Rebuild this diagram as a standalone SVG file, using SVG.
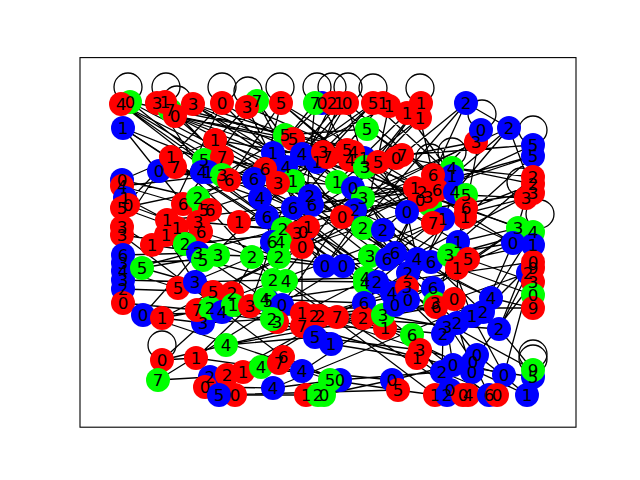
<svg xmlns="http://www.w3.org/2000/svg" width="640" height="480" viewBox="0 0 640 480">
<style>
.e{fill:none;stroke:#000;stroke-width:1.3}
.r{fill:#f00}.g{fill:#0f0}.b{fill:#00f}
.lb text{font-family:"DejaVu Sans","Liberation Sans",sans-serif;font-size:16.7px;text-anchor:middle;fill:#000}
</style>
<rect width="640" height="480" fill="#fff"/>
<g id="edges" class="e">
<path d="M121 104L229 180M121 104L293 208M121 104L267 217M130 102L222 175M130 102L310 196M123 128L204 160M123 128L254 179M123 128L302 247M123 128L198 222M157 103L202 172M157 103L285 135M165 102L260 198M175 116L293 139M175 116L337 182M175 116L355 210M175 116L222 157M193 104L273 153M193 104L302 154M193 104L378 162M222 103L171 157M222 103L286 167M222 103L167 220M247 107L215 140M247 107L364 158M247 107L325 266M257 101L312 205M257 101L342 217M257 101L183 204M281 103L350 160M281 103L229 180M281 103L265 169M281 103L407 212M315 103L254 179M315 103L302 247M322 103L273 153M322 103L383 230M332 103L293 181M332 103L402 155M339 103L260 198M339 103L317 162M347 103L365 167M347 103L278 183M347 103L433 175M373 103L325 155M373 103L302 154M373 103L452 176M383 103L293 208M389 106L265 169M389 106L363 228M407 113L337 182M407 113L466 195M421 103L378 162M420 118L353 188M420 118L443 219M420 118L312 205M466 103L402 155M466 103L433 175M466 103L509 128M481 130L422 192M481 130L466 208M476 142L397 157M476 142L363 198M509 128L455 192M509 128L428 197M509 128L533 193M533 145L437 190M533 145L402 155M533 156L465 217M533 156L415 188M533 177L452 168M533 177L458 242M533 184L433 223M533 193L407 212M526 198L466 195M526 198L513 243M526 198L443 219M518 228L458 242M518 228L466 208M518 228L433 288M533 232L491 298M533 232L449 255M513 243L417 259M513 243L457 268M513 243L483 312M533 245L468 259M533 245L499 329"/>
<path d="M452 168L363 198M452 168L383 230M433 175L355 210M437 190L365 167M415 188L312 205M422 192L395 253M428 197L342 217M420 200L387 259M455 192L408 300M466 195L395 305M466 208L377 282M465 217L435 303M407 212L302 247M407 212L417 259M433 223L365 278M443 219L370 256M458 242L392 293M458 242L457 323M402 155L325 266M397 157L283 229M215 140L122 180M215 140L302 154M215 140L310 196M204 160L286 167M204 160L254 179M222 157L293 181M222 157L278 183M171 157L122 208M171 157L239 222M175 167L260 198M159 171L229 180M159 171L122 227M202 172L267 217M208 172L310 196M222 175L285 135M229 180L293 208M122 180L198 198M122 186L183 204M125 198L167 220M128 205L201 232M122 208L177 228M183 204L254 179M198 198L273 153M204 210L293 181M210 210L273 280M239 222L312 205M167 220L283 229M177 228L252 257M166 235L210 308M198 222L303 232M201 232L279 257M122 227L152 245M122 235L185 244M152 245L218 255M185 244L297 233"/>
<path d="M285 135L337 182M293 139L364 158M273 153L347 150M302 154L353 188M265 169L342 217M286 167L363 228M254 179L272 242M278 183L370 256M293 181L383 230M260 198L325 266M267 217L343 266M293 208L365 278M310 196L395 253M312 205L387 259M317 162L363 198M325 155L402 155M347 150L415 188M353 152L428 197M350 160L420 200M364 158L433 223M365 167L443 219M378 162L407 212M367 129L285 135M367 129L433 175M337 182L408 273M353 188L417 259M363 198L431 262M342 217L282 305M355 210L449 255M363 228L408 273M383 230L457 268M283 229L252 257M297 233L365 283M303 232L377 282M308 227L392 293M272 242L250 306M280 242L272 319M302 247L302 313"/>
<path d="M123 255L198 253M123 263L203 260M123 271L178 288M123 280L195 282M123 289L213 292M123 303L197 310M123 303L143 315M142 268L232 293M142 268L218 255M198 253L265 299M203 260L286 281M218 255L279 257M178 288L252 257M195 282L273 280M213 292L282 305M232 293L302 313M143 315L222 312M162 318L233 305M197 310L277 322M210 308L302 326M203 323L272 319M222 312L314 316M233 305L320 316M250 306L337 317M226 345L162 360M226 345L302 326M226 345L315 337M196 358L162 360M196 358L261 367M158 380L210 377M210 377L279 363M205 387L273 388M227 375L283 357M243 372L302 371M219 395L306 395M235 395L322 395M196 358L250 306M162 318L203 323M143 315L198 253M162 360L203 323"/>
<path d="M252 257L325 266M279 257L343 266M325 266L370 256M343 266L387 259M273 280L365 278M286 281L377 282M265 299L364 303M282 305L363 318M272 319L331 344M277 322L315 337M302 313L383 315M302 326L385 328M314 316L392 293M320 316L395 305M337 317L412 335M364 303L433 288M363 318L435 303M383 315L447 327M385 328L443 334M315 337L420 350M331 344L417 358M261 367L302 371M279 363L330 380M283 357L338 380M302 371L392 380M273 388L338 380M330 380L398 390M338 380L442 372M392 380L453 365M398 390L435 395M322 395L392 380M306 395L302 371"/>
<path d="M417 259L491 298M431 262L483 312M449 255L472 316M468 259L533 282M457 268L533 295M408 273L457 323M407 287L447 327M408 300L443 334M433 288L499 329M435 303L477 355M436 307L473 362M454 299L528 273M491 298L533 308M483 312L533 262M472 316L504 375M457 323L472 372M447 327L453 365M443 334L442 372M499 329L533 370M412 335L450 390M420 350L463 395M417 358L468 395M477 355L527 395M473 362L489 395M442 372L497 395M453 365L533 377M504 375L533 268M528 273L499 329M533 282L477 355"/>
<path d="M121 104L431 262M123 128L395 305M130 102L533 184M175 116L466 208M193 104L417 259M222 103L458 242M281 103L513 243M347 103L222 312M373 103L178 288M421 103L265 299M466 103L325 266M509 128L283 229M533 156L272 242M533 193L302 313M518 228L302 371M533 262L233 305M533 308L210 308M504 375L282 305M527 395L363 318M463 395L286 281M435 395L252 257M398 390L219 395M338 380L143 315M302 371L122 235M226 345L436 307M158 380L343 266M162 318L415 188M123 271L355 210M122 208L350 160M159 171L466 195M215 140L433 223M204 160L491 298M260 198L457 323M293 181L472 316M254 179L408 300M302 154L533 232M325 155L513 243M364 158L175 116M402 155L122 186M437 190L167 220M466 195L239 222M452 176L213 292M443 219L197 310M458 242L243 372M431 262L205 387M491 298L273 388M472 372L302 326M499 329L320 316M533 370L392 293M489 395L383 315"/>
<g id="loops">
<circle cx="128" cy="87" r="14"/><circle cx="166" cy="87" r="14"/><circle cx="177" cy="100" r="14"/><circle cx="222" cy="87" r="14"/><circle cx="248" cy="91" r="14"/><circle cx="280" cy="87" r="14"/><circle cx="317" cy="87" r="14"/><circle cx="332" cy="87" r="14"/><circle cx="348" cy="87" r="14"/><circle cx="373" cy="88" r="14"/><circle cx="420" cy="88" r="14"/><circle cx="482" cy="114" r="14"/><circle cx="533" cy="130" r="14"/><circle cx="452" cy="152" r="14"/><circle cx="430" cy="158" r="14"/><circle cx="162" cy="345" r="14"/><circle cx="533" cy="354" r="14"/><circle cx="533" cy="359" r="14"/><circle cx="540" cy="214" r="14"/><circle cx="521" cy="182" r="14"/>
</g>
</g>
<g id="nodes">
<g id="n1"><circle class="g" cx="130" cy="102" r="12"/></g>
<g id="n2"><circle class="r" cx="121" cy="104" r="12"/></g>
<g id="n3"><circle class="b" cx="123" cy="128" r="12"/></g>
<g id="n4"><circle class="r" cx="157" cy="103" r="12"/></g>
<g id="n5"><circle class="g" cx="170" cy="110" r="12"/></g>
<g id="n6"><circle class="r" cx="165" cy="102" r="12"/></g>
<g id="n7"><circle class="r" cx="175" cy="116" r="12"/></g>
<g id="n8"><circle class="r" cx="193" cy="104" r="12"/></g>
<g id="n9"><circle class="r" cx="222" cy="103" r="12"/></g>
<g id="n10"><circle class="g" cx="257" cy="101" r="12"/></g>
<g id="n11"><circle class="r" cx="247" cy="107" r="12"/></g>
<g id="n12"><circle class="r" cx="281" cy="103" r="12"/></g>
<g id="n14"><circle class="b" cx="322" cy="103" r="12"/></g>
<g id="n13"><circle class="g" cx="315" cy="103" r="12"/></g>
<g id="n15"><circle class="r" cx="332" cy="103" r="12"/></g>
<g id="n16"><circle class="r" cx="339" cy="103" r="12"/></g>
<g id="n17"><circle class="r" cx="347" cy="103" r="12"/></g>
<g id="n18"><circle class="r" cx="373" cy="103" r="12"/></g>
<g id="n19"><circle class="r" cx="383" cy="103" r="12"/></g>
<g id="n20"><circle class="r" cx="389" cy="106" r="12"/></g>
<g id="n21"><circle class="r" cx="421" cy="103" r="12"/></g>
<g id="n22"><circle class="r" cx="407" cy="113" r="12"/></g>
<g id="n23"><circle class="r" cx="420" cy="118" r="12"/></g>
<g id="n24"><circle class="b" cx="466" cy="103" r="12"/></g>
<g id="n25"><circle class="r" cx="476" cy="142" r="12"/></g>
<g id="n26"><circle class="b" cx="481" cy="130" r="12"/></g>
<g id="n27"><circle class="b" cx="509" cy="128" r="12"/></g>
<g id="n28"><circle class="b" cx="533" cy="145" r="12"/></g>
<g id="n29"><circle class="b" cx="533" cy="156" r="12"/></g>
<g id="n30"><circle class="r" cx="533" cy="177" r="12"/></g>
<g id="n31"><circle class="r" cx="533" cy="184" r="12"/></g>
<g id="n32"><circle class="r" cx="533" cy="193" r="12"/></g>
<g id="n33"><circle class="r" cx="526" cy="198" r="12"/></g>
<g id="n34"><circle class="g" cx="518" cy="228" r="12"/></g>
<g id="n35"><circle class="g" cx="533" cy="232" r="12"/></g>
<g id="n36"><circle class="b" cx="513" cy="243" r="12"/></g>
<g id="n37"><circle class="b" cx="533" cy="245" r="12"/></g>
<g id="n38"><circle class="r" cx="402" cy="155" r="12"/></g>
<g id="n39"><circle class="r" cx="396" cy="158" r="12"/></g>
<g id="n40"><circle class="g" cx="452" cy="168" r="12"/></g>
<g id="n41"><circle class="b" cx="452" cy="176" r="12"/></g>
<g id="n42"><circle class="r" cx="433" cy="175" r="12"/></g>
<g id="n45"><circle class="g" cx="430" cy="205" r="12"/></g>
<g id="n43"><circle class="r" cx="415" cy="188" r="12"/></g>
<g id="n44"><circle class="r" cx="422" cy="192" r="12"/></g>
<g id="n46"><circle class="r" cx="437" cy="190" r="12"/></g>
<g id="n47"><circle class="r" cx="420" cy="200" r="12"/></g>
<g id="n48"><circle class="r" cx="428" cy="197" r="12"/></g>
<g id="n49"><circle class="b" cx="455" cy="192" r="12"/></g>
<g id="n50"><circle class="g" cx="466" cy="195" r="12"/></g>
<g id="n51"><circle class="r" cx="466" cy="208" r="12"/></g>
<g id="n52"><circle class="r" cx="465" cy="217" r="12"/></g>
<g id="n53"><circle class="b" cx="407" cy="212" r="12"/></g>
<g id="n55"><circle class="b" cx="443" cy="219" r="12"/></g>
<g id="n54"><circle class="r" cx="433" cy="223" r="12"/></g>
<g id="n56"><circle class="b" cx="458" cy="242" r="12"/></g>
<g id="n57"><circle class="r" cx="215" cy="140" r="12"/></g>
<g id="n58"><circle class="g" cx="204" cy="160" r="12"/></g>
<g id="n59"><circle class="r" cx="222" cy="157" r="12"/></g>
<g id="n62"><circle class="b" cx="159" cy="171" r="12"/></g>
<g id="n60"><circle class="r" cx="171" cy="157" r="12"/></g>
<g id="n61"><circle class="r" cx="175" cy="167" r="12"/></g>
<g id="n63"><circle class="b" cx="202" cy="172" r="12"/></g>
<g id="n64"><circle class="b" cx="208" cy="172" r="12"/></g>
<g id="n65"><circle class="g" cx="222" cy="175" r="12"/></g>
<g id="n66"><circle class="r" cx="229" cy="180" r="12"/></g>
<g id="n67"><circle class="b" cx="122" cy="180" r="12"/></g>
<g id="n68"><circle class="r" cx="122" cy="186" r="12"/></g>
<g id="n69"><circle class="b" cx="125" cy="198" r="12"/></g>
<g id="n70"><circle class="r" cx="128" cy="205" r="12"/></g>
<g id="n71"><circle class="r" cx="122" cy="208" r="12"/></g>
<g id="n72"><circle class="r" cx="183" cy="204" r="12"/></g>
<g id="n73"><circle class="g" cx="198" cy="198" r="12"/></g>
<g id="n74"><circle class="g" cx="204" cy="210" r="12"/></g>
<g id="n75"><circle class="r" cx="210" cy="210" r="12"/></g>
<g id="n76"><circle class="r" cx="239" cy="222" r="12"/></g>
<g id="n77"><circle class="r" cx="167" cy="220" r="12"/></g>
<g id="n78"><circle class="r" cx="177" cy="228" r="12"/></g>
<g id="n79"><circle class="r" cx="166" cy="235" r="12"/></g>
<g id="n80"><circle class="r" cx="198" cy="222" r="12"/></g>
<g id="n81"><circle class="r" cx="201" cy="232" r="12"/></g>
<g id="n82"><circle class="r" cx="122" cy="227" r="12"/></g>
<g id="n83"><circle class="r" cx="122" cy="235" r="12"/></g>
<g id="n84"><circle class="r" cx="152" cy="245" r="12"/></g>
<g id="n85"><circle class="g" cx="185" cy="244" r="12"/></g>
<g id="n86"><circle class="g" cx="285" cy="135" r="12"/></g>
<g id="n87"><circle class="r" cx="293" cy="139" r="12"/></g>
<g id="n88"><circle class="b" cx="273" cy="153" r="12"/></g>
<g id="n89"><circle class="b" cx="302" cy="154" r="12"/></g>
<g id="n91"><circle class="b" cx="286" cy="167" r="12"/></g>
<g id="n90"><circle class="r" cx="265" cy="169" r="12"/></g>
<g id="n92"><circle class="b" cx="254" cy="179" r="12"/></g>
<g id="n94"><circle class="g" cx="293" cy="181" r="12"/></g>
<g id="n93"><circle class="r" cx="278" cy="183" r="12"/></g>
<g id="n95"><circle class="b" cx="260" cy="198" r="12"/></g>
<g id="n96"><circle class="b" cx="267" cy="217" r="12"/></g>
<g id="n97"><circle class="b" cx="293" cy="208" r="12"/></g>
<g id="n98"><circle class="b" cx="310" cy="196" r="12"/></g>
<g id="n99"><circle class="b" cx="312" cy="205" r="12"/></g>
<g id="n100"><circle class="b" cx="317" cy="162" r="12"/></g>
<g id="n101"><circle class="r" cx="323" cy="152" r="12"/></g>
<g id="n102"><circle class="r" cx="327" cy="157" r="12"/></g>
<g id="n106"><circle class="b" cx="364" cy="158" r="12"/></g>
<g id="n103"><circle class="r" cx="347" cy="150" r="12"/></g>
<g id="n104"><circle class="r" cx="353" cy="152" r="12"/></g>
<g id="n105"><circle class="r" cx="350" cy="160" r="12"/></g>
<g id="n107"><circle class="g" cx="365" cy="167" r="12"/></g>
<g id="n108"><circle class="r" cx="378" cy="162" r="12"/></g>
<g id="n109"><circle class="g" cx="367" cy="129" r="12"/></g>
<g id="n110"><circle class="g" cx="337" cy="182" r="12"/></g>
<g id="n111"><circle class="b" cx="353" cy="188" r="12"/></g>
<g id="n112"><circle class="g" cx="363" cy="198" r="12"/></g>
<g id="n114"><circle class="b" cx="355" cy="210" r="12"/></g>
<g id="n113"><circle class="r" cx="342" cy="217" r="12"/></g>
<g id="n115"><circle class="g" cx="363" cy="228" r="12"/></g>
<g id="n116"><circle class="b" cx="383" cy="230" r="12"/></g>
<g id="n117"><circle class="g" cx="283" cy="229" r="12"/></g>
<g id="n119"><circle class="b" cx="303" cy="232" r="12"/></g>
<g id="n118"><circle class="r" cx="297" cy="233" r="12"/></g>
<g id="n120"><circle class="r" cx="308" cy="227" r="12"/></g>
<g id="n121"><circle class="b" cx="272" cy="242" r="12"/></g>
<g id="n122"><circle class="g" cx="280" cy="242" r="12"/></g>
<g id="n123"><circle class="r" cx="302" cy="247" r="12"/></g>
<g id="n124"><circle class="b" cx="123" cy="255" r="12"/></g>
<g id="n125"><circle class="b" cx="123" cy="263" r="12"/></g>
<g id="n126"><circle class="b" cx="123" cy="271" r="12"/></g>
<g id="n127"><circle class="b" cx="123" cy="280" r="12"/></g>
<g id="n128"><circle class="b" cx="123" cy="289" r="12"/></g>
<g id="n129"><circle class="r" cx="123" cy="303" r="12"/></g>
<g id="n130"><circle class="g" cx="142" cy="268" r="12"/></g>
<g id="n131"><circle class="b" cx="198" cy="253" r="12"/></g>
<g id="n132"><circle class="g" cx="203" cy="260" r="12"/></g>
<g id="n133"><circle class="g" cx="218" cy="255" r="12"/></g>
<g id="n134"><circle class="r" cx="178" cy="288" r="12"/></g>
<g id="n135"><circle class="b" cx="195" cy="282" r="12"/></g>
<g id="n136"><circle class="r" cx="213" cy="292" r="12"/></g>
<g id="n137"><circle class="r" cx="232" cy="293" r="12"/></g>
<g id="n138"><circle class="b" cx="143" cy="315" r="12"/></g>
<g id="n139"><circle class="r" cx="162" cy="318" r="12"/></g>
<g id="n140"><circle class="b" cx="203" cy="323" r="12"/></g>
<g id="n141"><circle class="r" cx="197" cy="310" r="12"/></g>
<g id="n142"><circle class="g" cx="210" cy="308" r="12"/></g>
<g id="n143"><circle class="b" cx="222" cy="312" r="12"/></g>
<g id="n144"><circle class="g" cx="233" cy="305" r="12"/></g>
<g id="n145"><circle class="r" cx="250" cy="306" r="12"/></g>
<g id="n146"><circle class="g" cx="226" cy="345" r="12"/></g>
<g id="n147"><circle class="r" cx="162" cy="360" r="12"/></g>
<g id="n148"><circle class="r" cx="196" cy="358" r="12"/></g>
<g id="n149"><circle class="g" cx="158" cy="380" r="12"/></g>
<g id="n151"><circle class="b" cx="210" cy="377" r="12"/></g>
<g id="n150"><circle class="r" cx="205" cy="387" r="12"/></g>
<g id="n152"><circle class="r" cx="227" cy="375" r="12"/></g>
<g id="n153"><circle class="r" cx="243" cy="372" r="12"/></g>
<g id="n155"><circle class="r" cx="235" cy="395" r="12"/></g>
<g id="n154"><circle class="b" cx="219" cy="395" r="12"/></g>
<g id="n156"><circle class="g" cx="252" cy="257" r="12"/></g>
<g id="n157"><circle class="g" cx="279" cy="257" r="12"/></g>
<g id="n158"><circle class="b" cx="325" cy="266" r="12"/></g>
<g id="n159"><circle class="b" cx="343" cy="266" r="12"/></g>
<g id="n160"><circle class="g" cx="370" cy="256" r="12"/></g>
<g id="n161"><circle class="b" cx="387" cy="259" r="12"/></g>
<g id="n162"><circle class="b" cx="395" cy="253" r="12"/></g>
<g id="n163"><circle class="g" cx="365" cy="278" r="12"/></g>
<g id="n164"><circle class="g" cx="365" cy="283" r="12"/></g>
<g id="n165"><circle class="b" cx="377" cy="282" r="12"/></g>
<g id="n166"><circle class="g" cx="273" cy="280" r="12"/></g>
<g id="n167"><circle class="g" cx="286" cy="281" r="12"/></g>
<g id="n168"><circle class="b" cx="268" cy="301" r="12"/></g>
<g id="n169"><circle class="g" cx="265" cy="299" r="12"/></g>
<g id="n170"><circle class="b" cx="282" cy="305" r="12"/></g>
<g id="n172"><circle class="r" cx="277" cy="322" r="12"/></g>
<g id="n171"><circle class="g" cx="272" cy="319" r="12"/></g>
<g id="n173"><circle class="r" cx="302" cy="313" r="12"/></g>
<g id="n174"><circle class="r" cx="302" cy="326" r="12"/></g>
<g id="n175"><circle class="r" cx="314" cy="316" r="12"/></g>
<g id="n176"><circle class="r" cx="320" cy="316" r="12"/></g>
<g id="n177"><circle class="r" cx="337" cy="317" r="12"/></g>
<g id="n178"><circle class="b" cx="364" cy="303" r="12"/></g>
<g id="n179"><circle class="r" cx="363" cy="318" r="12"/></g>
<g id="n181"><circle class="r" cx="385" cy="328" r="12"/></g>
<g id="n180"><circle class="g" cx="383" cy="315" r="12"/></g>
<g id="n182"><circle class="b" cx="315" cy="337" r="12"/></g>
<g id="n183"><circle class="b" cx="331" cy="344" r="12"/></g>
<g id="n184"><circle class="b" cx="392" cy="293" r="12"/></g>
<g id="n185"><circle class="b" cx="395" cy="305" r="12"/></g>
<g id="n186"><circle class="g" cx="261" cy="367" r="12"/></g>
<g id="n188"><circle class="r" cx="283" cy="357" r="12"/></g>
<g id="n187"><circle class="r" cx="279" cy="363" r="12"/></g>
<g id="n189"><circle class="b" cx="302" cy="371" r="12"/></g>
<g id="n190"><circle class="b" cx="273" cy="388" r="12"/></g>
<g id="n194"><circle class="b" cx="340" cy="380" r="12"/></g>
<g id="n195"><circle class="g" cx="330" cy="380" r="12"/></g>
<g id="n191"><circle class="r" cx="306" cy="395" r="12"/></g>
<g id="n192"><circle class="g" cx="318" cy="395" r="12"/></g>
<g id="n193"><circle class="g" cx="324" cy="395" r="12"/></g>
<g id="n196"><circle class="b" cx="392" cy="380" r="12"/></g>
<g id="n197"><circle class="r" cx="398" cy="390" r="12"/></g>
<g id="n198"><circle class="b" cx="417" cy="259" r="12"/></g>
<g id="n199"><circle class="b" cx="431" cy="262" r="12"/></g>
<g id="n200"><circle class="g" cx="449" cy="255" r="12"/></g>
<g id="n201"><circle class="r" cx="468" cy="259" r="12"/></g>
<g id="n202"><circle class="r" cx="457" cy="268" r="12"/></g>
<g id="n205"><circle class="b" cx="528" cy="273" r="12"/></g>
<g id="n203"><circle class="r" cx="533" cy="262" r="12"/></g>
<g id="n204"><circle class="r" cx="533" cy="268" r="12"/></g>
<g id="n206"><circle class="b" cx="408" cy="273" r="12"/></g>
<g id="n207"><circle class="r" cx="407" cy="287" r="12"/></g>
<g id="n208"><circle class="b" cx="408" cy="300" r="12"/></g>
<g id="n209"><circle class="b" cx="433" cy="288" r="12"/></g>
<g id="n210"><circle class="g" cx="435" cy="303" r="12"/></g>
<g id="n211"><circle class="r" cx="436" cy="307" r="12"/></g>
<g id="n212"><circle class="r" cx="454" cy="299" r="12"/></g>
<g id="n213"><circle class="b" cx="491" cy="298" r="12"/></g>
<g id="n214"><circle class="b" cx="483" cy="312" r="12"/></g>
<g id="n215"><circle class="b" cx="472" cy="316" r="12"/></g>
<g id="n216"><circle class="b" cx="457" cy="323" r="12"/></g>
<g id="n217"><circle class="b" cx="447" cy="327" r="12"/></g>
<g id="n218"><circle class="b" cx="443" cy="334" r="12"/></g>
<g id="n219"><circle class="b" cx="499" cy="329" r="12"/></g>
<g id="n220"><circle class="r" cx="533" cy="282" r="12"/></g>
<g id="n221"><circle class="g" cx="533" cy="295" r="12"/></g>
<g id="n222"><circle class="r" cx="533" cy="308" r="12"/></g>
<g id="n223"><circle class="g" cx="412" cy="335" r="12"/></g>
<g id="n224"><circle class="r" cx="420" cy="350" r="12"/></g>
<g id="n225"><circle class="r" cx="417" cy="358" r="12"/></g>
<g id="n226"><circle class="b" cx="477" cy="355" r="12"/></g>
<g id="n227"><circle class="b" cx="473" cy="362" r="12"/></g>
<g id="n228"><circle class="b" cx="442" cy="372" r="12"/></g>
<g id="n229"><circle class="b" cx="453" cy="365" r="12"/></g>
<g id="n230"><circle class="b" cx="472" cy="372" r="12"/></g>
<g id="n232"><circle class="b" cx="533" cy="377" r="12"/></g>
<g id="n231"><circle class="g" cx="533" cy="370" r="12"/></g>
<g id="n233"><circle class="b" cx="504" cy="375" r="12"/></g>
<g id="n234"><circle class="b" cx="527" cy="395" r="12"/></g>
<g id="n235"><circle class="r" cx="435" cy="395" r="12"/></g>
<g id="n236"><circle class="b" cx="450" cy="390" r="12"/></g>
<g id="n237"><circle class="b" cx="447" cy="395" r="12"/></g>
<g id="n238"><circle class="r" cx="463" cy="395" r="12"/></g>
<g id="n239"><circle class="r" cx="468" cy="395" r="12"/></g>
<g id="n240"><circle class="b" cx="489" cy="395" r="12"/></g>
<g id="n241"><circle class="r" cx="497" cy="395" r="12"/></g>
</g>
<g id="labels" class="lb">
<text x="130" y="108">0</text><text x="121" y="110">4</text><text x="123" y="134">1</text><text x="157" y="109">3</text><text x="170" y="116">7</text><text x="165" y="108">1</text><text x="175" y="122">0</text><text x="193" y="110">3</text><text x="222" y="109">0</text><text x="257" y="107">7</text><text x="247" y="113">3</text><text x="281" y="109">5</text><text x="315" y="109">7</text><text x="322" y="109">0</text><text x="332" y="109">2</text><text x="339" y="109">1</text><text x="347" y="109">0</text><text x="373" y="109">5</text><text x="383" y="109">1</text><text x="389" y="112">1</text><text x="421" y="109">1</text><text x="407" y="119">1</text><text x="420" y="124">1</text><text x="466" y="109">2</text><text x="476" y="148">3</text><text x="481" y="136">0</text><text x="509" y="134">2</text><text x="533" y="151">5</text><text x="533" y="162">5</text><text x="533" y="183">2</text><text x="533" y="190">2</text><text x="533" y="199">3</text><text x="526" y="204">3</text><text x="518" y="234">3</text><text x="533" y="238">4</text><text x="513" y="249">0</text><text x="533" y="251">1</text>
<text x="402" y="161">7</text><text x="396" y="164">0</text><text x="452" y="174">4</text><text x="452" y="182">1</text><text x="433" y="181">6</text><text x="415" y="194">1</text><text x="422" y="198">2</text><text x="437" y="196">6</text><text x="420" y="206">0</text><text x="428" y="203">3</text><text x="455" y="198">4</text><text x="466" y="201">5</text><text x="466" y="214">6</text><text x="465" y="223">1</text><text x="407" y="218">0</text><text x="433" y="229">7</text><text x="443" y="225">1</text><text x="458" y="248">1</text>
<text x="215" y="146">1</text><text x="204" y="166">5</text><text x="222" y="163">7</text><text x="171" y="163">1</text><text x="175" y="173">7</text><text x="159" y="177">0</text><text x="202" y="178">4</text><text x="208" y="178">1</text><text x="222" y="181">3</text><text x="229" y="186">6</text><text x="122" y="186">0</text><text x="122" y="192">4</text><text x="125" y="204">1</text><text x="128" y="211">0</text><text x="122" y="214">5</text><text x="183" y="210">6</text><text x="198" y="204">2</text><text x="204" y="216">5</text><text x="210" y="216">6</text><text x="239" y="228">1</text><text x="167" y="226">1</text><text x="177" y="234">1</text><text x="166" y="241">1</text><text x="198" y="228">3</text><text x="201" y="238">6</text><text x="122" y="233">3</text><text x="122" y="241">3</text><text x="152" y="251">1</text><text x="185" y="250">2</text>
<text x="285" y="141">5</text><text x="293" y="145">5</text><text x="273" y="159">1</text><text x="302" y="160">4</text><text x="265" y="175">6</text><text x="286" y="173">4</text><text x="254" y="185">6</text><text x="278" y="189">3</text><text x="293" y="187">1</text><text x="260" y="204">4</text><text x="267" y="223">6</text><text x="293" y="214">6</text><text x="310" y="202">2</text><text x="312" y="211">6</text><text x="317" y="168">1</text><text x="323" y="158">3</text><text x="327" y="163">7</text><text x="347" y="156">5</text><text x="353" y="158">4</text><text x="350" y="166">4</text><text x="364" y="164">1</text><text x="365" y="173">3</text><text x="378" y="168">5</text><text x="367" y="135">5</text><text x="337" y="188">1</text><text x="353" y="194">0</text><text x="363" y="204">3</text><text x="342" y="223">0</text><text x="355" y="216">2</text><text x="363" y="234">2</text><text x="383" y="236">2</text><text x="283" y="235">2</text><text x="297" y="239">3</text><text x="303" y="238">0</text><text x="308" y="233">1</text><text x="272" y="248">6</text><text x="280" y="248">4</text><text x="302" y="253">0</text>
<text x="123" y="261">6</text><text x="123" y="269">3</text><text x="123" y="277">4</text><text x="123" y="286">3</text><text x="123" y="295">2</text><text x="123" y="309">0</text><text x="142" y="274">5</text><text x="198" y="259">3</text><text x="203" y="266">5</text><text x="218" y="261">3</text><text x="178" y="294">5</text><text x="195" y="288">3</text><text x="213" y="298">5</text><text x="232" y="299">2</text><text x="143" y="321">0</text><text x="162" y="324">1</text><text x="203" y="329">3</text><text x="197" y="316">7</text><text x="210" y="314">2</text><text x="222" y="318">4</text><text x="233" y="311">1</text><text x="250" y="312">3</text><text x="226" y="351">4</text><text x="162" y="366">0</text><text x="196" y="364">1</text><text x="158" y="386">7</text><text x="210" y="383">2</text><text x="205" y="393">0</text><text x="227" y="381">2</text><text x="243" y="378">1</text><text x="219" y="401">5</text><text x="235" y="401">0</text>
<text x="252" y="263">2</text><text x="279" y="263">2</text><text x="325" y="272">0</text><text x="343" y="272">0</text><text x="370" y="262">3</text><text x="387" y="265">6</text><text x="395" y="259">6</text><text x="365" y="284">4</text><text x="365" y="289">4</text><text x="377" y="288">2</text><text x="273" y="286">2</text><text x="286" y="287">4</text><text x="268" y="307">5</text><text x="265" y="305">4</text><text x="282" y="311">0</text><text x="272" y="325">2</text><text x="277" y="328">3</text><text x="302" y="319">1</text><text x="302" y="332">7</text><text x="314" y="322">2</text><text x="320" y="322">2</text><text x="337" y="323">7</text><text x="364" y="309">6</text><text x="363" y="324">2</text><text x="383" y="321">3</text><text x="385" y="334">1</text><text x="315" y="343">5</text><text x="331" y="350">1</text><text x="392" y="299">4</text><text x="395" y="311">0</text><text x="261" y="373">4</text><text x="279" y="369">7</text><text x="283" y="363">6</text><text x="302" y="377">4</text><text x="273" y="394">4</text><text x="306" y="401">1</text><text x="318" y="401">2</text><text x="324" y="401">0</text><text x="340" y="386">0</text><text x="330" y="386">5</text><text x="392" y="386">0</text><text x="398" y="396">5</text>
<text x="417" y="265">4</text><text x="431" y="268">6</text><text x="449" y="261">3</text><text x="468" y="265">5</text><text x="457" y="274">1</text><text x="533" y="268">0</text><text x="533" y="274">9</text><text x="528" y="279">2</text><text x="408" y="279">2</text><text x="407" y="293">3</text><text x="408" y="306">0</text><text x="433" y="294">6</text><text x="435" y="309">3</text><text x="436" y="313">6</text><text x="454" y="305">0</text><text x="491" y="304">4</text><text x="483" y="318">2</text><text x="472" y="322">1</text><text x="457" y="329">2</text><text x="447" y="333">3</text><text x="443" y="340">2</text><text x="499" y="335">2</text><text x="533" y="288">3</text><text x="533" y="301">0</text><text x="533" y="314">9</text><text x="412" y="341">6</text><text x="420" y="356">3</text><text x="417" y="364">1</text><text x="477" y="361">0</text><text x="473" y="368">0</text><text x="442" y="378">2</text><text x="453" y="371">0</text><text x="472" y="378">0</text><text x="533" y="376">9</text><text x="533" y="383">5</text><text x="504" y="381">0</text><text x="527" y="401">1</text><text x="435" y="401">1</text><text x="450" y="396">0</text><text x="447" y="401">2</text><text x="463" y="401">0</text><text x="468" y="401">4</text><text x="489" y="401">6</text><text x="497" y="401">0</text>
</g>
<rect id="frame" x="80" y="57.6" width="496" height="369.6" fill="none" stroke="#000" stroke-width="1.1"/>
</svg>
